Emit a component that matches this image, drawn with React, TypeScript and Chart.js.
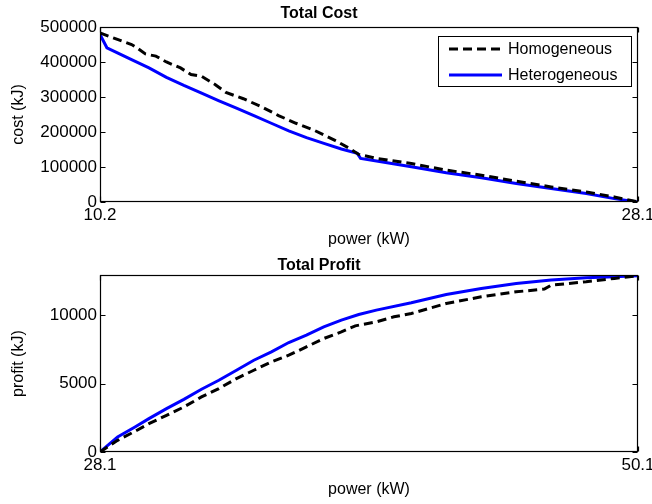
import React, { useEffect, useRef } from "react";
import { Chart, registerables } from "chart.js";

Chart.register(...registerables);

// ---------- data ----------
const seriesNames = ["Homogeneous", "Heterogeneous"];

const costHomoX = [10.2, 10.78, 11.25, 11.42, 11.71, 12.06, 12.41, 12.88, 13.23, 13.58, 14.04, 14.39, 14.97, 15.55, 16.14, 16.72, 17.3, 18.0, 18.46, 18.81, 19.4, 20.56, 21.72, 22.89, 24.05, 25.21, 26.38, 27.31, 28.1];
const costHomoY = [483000, 464500, 450000, 441000, 423000, 416700, 400000, 383000, 364000, 359000, 335000, 313000, 295000, 273000, 247000, 225000, 206000, 177000, 155000, 136000, 124500, 110000, 91000, 76600, 59400, 43100, 28700, 14400, 0];

const costHeteroX = [10.2, 10.43, 10.78, 11.25, 11.83, 12.41, 12.99, 13.58, 14.16, 14.74, 15.32, 15.9, 16.48, 17.07, 17.65, 18.23, 18.76, 18.87, 19.4, 20.56, 21.72, 22.89, 24.05, 25.21, 26.38, 27.31, 28.1];
const costHeteroY = [479000, 440600, 426000, 407000, 383000, 356000, 333000, 311000, 289000, 268000, 247000, 225000, 203000, 184000, 167600, 151300, 139000, 124500, 116900, 100600, 83300, 69000, 52700, 38300, 24000, 9600, 0];

const profitHomoX = [28.1, 28.82, 29.53, 30.1, 30.82, 31.53, 32.25, 32.96, 33.68, 34.39, 35.11, 35.82, 36.54, 37.25, 37.97, 38.54, 39.4, 40.12, 40.83, 41.54, 42.26, 43.69, 45.12, 46.27, 46.55, 47.98, 49.13, 50.1];
const profitHomoY = [0, 850, 1510, 2070, 2680, 3290, 4024, 4634, 5366, 5975, 6585, 7073, 7683, 8293, 8780, 9220, 9512, 9878, 10122, 10488, 10854, 11341, 11707, 11902, 12195, 12439, 12683, 12878];

const profitHeteroX = [28.1, 28.82, 29.53, 30.1, 30.82, 31.53, 32.25, 32.96, 33.68, 34.39, 35.11, 35.82, 36.54, 37.25, 37.97, 38.68, 39.4, 40.83, 42.26, 43.69, 45.12, 46.55, 47.98, 49.13, 50.1];
const profitHeteroY = [0, 1100, 1830, 2440, 3170, 3850, 4585, 5240, 5975, 6707, 7317, 8000, 8537, 9146, 9634, 10049, 10366, 10903, 11512, 11951, 12317, 12561, 12732, 12805, 12878];

const costXRange = [10.2, 28.1];
const costYRange = [0, 500000];
const costYTicks = [0, 100000, 200000, 300000, 400000, 500000];

const profitXRange = [28.1, 50.1];
const profitYRange = [0, 12920];
const profitYTicks = [0, 5000, 10000];

// ---------- style ----------
const FONT = "'Liberation Sans', Arial, Helvetica, sans-serif";
const BLACK = "#000000";
const BLUE = "#0000ff";

const toPoints = (xs: number[], ys: number[]) => xs.map((x, i) => ({ x, y: ys[i] }));

const framePlugin = {
  id: "frameTicks",
  afterDatasetsDraw(chart: any) {
    const { ctx, chartArea } = chart;
    const { left, right, top, bottom } = chartArea;
    const L = Math.round(left) + 0.5;
    const R = Math.round(right) - 0.5;
    const T = Math.round(top) + 0.5;
    const B = Math.round(bottom) - 0.5;
    ctx.save();
    ctx.strokeStyle = BLACK;
    ctx.lineWidth = 1.2;
    ctx.strokeRect(L, T, R - L, B - T);
    const tl = 5;
    ctx.beginPath();
    const ys = chart.scales.y;
    ys.ticks.forEach((t: any) => {
      const p = Math.round(ys.getPixelForValue(t.value)) + 0.5;
      ctx.moveTo(L, p);
      ctx.lineTo(L + tl, p);
      ctx.moveTo(R, p);
      ctx.lineTo(R - tl, p);
    });
    const xs = chart.scales.x;
    xs.ticks.forEach((t: any) => {
      const p = Math.round(xs.getPixelForValue(t.value)) + 0.5;
      ctx.moveTo(p, B);
      ctx.lineTo(p, B - tl);
      ctx.moveTo(p, T);
      ctx.lineTo(p, T + tl);
    });
    ctx.stroke();
    ctx.restore();
  },
};

const boxLegendPlugin = {
  id: "boxLegend",
  afterDraw(chart: any) {
    const { ctx, chartArea } = chart;
    const w = 193;
    const h = 50;
    const bx = Math.round(chartArea.right) - 7 - w;
    const by = Math.round(chartArea.top) + 9;
    ctx.save();
    ctx.fillStyle = "#ffffff";
    ctx.fillRect(bx, by, w, h);
    ctx.strokeStyle = BLACK;
    ctx.lineWidth = 1;
    ctx.strokeRect(bx + 0.5, by + 0.5, w, h);
    chart.data.datasets.forEach((ds: any, i: number) => {
      const yy = by + 13 + i * 26;
      ctx.beginPath();
      ctx.strokeStyle = ds.borderColor;
      ctx.lineWidth = ds.borderWidth;
      ctx.setLineDash(ds.borderDash || []);
      ctx.moveTo(bx + 11, yy);
      ctx.lineTo(bx + 64, yy);
      ctx.stroke();
      ctx.setLineDash([]);
      ctx.fillStyle = BLACK;
      ctx.font = `16px ${FONT}`;
      ctx.textAlign = "left";
      ctx.textBaseline = "middle";
      ctx.fillText(ds.label, bx + 70, yy + 1);
    });
    ctx.restore();
  },
};

type PanelDef = {
  title: string;
  yTitle: string;
  homoX: number[];
  homoY: number[];
  heteroX: number[];
  heteroY: number[];
  xRange: number[];
  yRange: number[];
  yTicks: number[];
  titlePad: { top: number; bottom: number };
  xAxisHeight: number;
  xTitlePadBottom: number;
  legend: boolean;
};

function buildConfig(p: PanelDef): any {
  return {
    type: "line",
    data: {
      datasets: [
        {
          label: seriesNames[0],
          data: toPoints(p.homoX, p.homoY),
          borderColor: BLACK,
          borderWidth: 3,
          borderDash: [9, 5],
          pointRadius: 0,
          tension: 0,
          fill: false,
        },
        {
          label: seriesNames[1],
          data: toPoints(p.heteroX, p.heteroY),
          borderColor: BLUE,
          borderWidth: 3,
          pointRadius: 0,
          tension: 0,
          fill: false,
        },
      ],
    },
    options: {
      animation: false,
      responsive: false,
      devicePixelRatio: 1,
      layout: { padding: { left: 0, right: 14, top: 0, bottom: 0 } },
      plugins: {
        legend: { display: false },
        tooltip: { enabled: false },
        title: {
          display: true,
          text: p.title,
          color: BLACK,
          font: { family: FONT, size: 16, weight: "bold", lineHeight: 1.2 },
          padding: p.titlePad,
        },
      },
      scales: {
        x: {
          type: "linear",
          min: p.xRange[0],
          max: p.xRange[1],
          grid: { display: false, drawTicks: false },
          border: { display: false },
          afterBuildTicks: (scale: any) => {
            scale.ticks = [{ value: p.xRange[0] }, { value: p.xRange[1] }];
          },
          afterFit: (scale: any) => {
            scale.height = p.xAxisHeight;
            scale.paddingLeft = 0;
            scale.paddingRight = 0;
          },
          ticks: {
            color: BLACK,
            padding: 3,
            maxRotation: 0,
            autoSkip: false,
            font: { family: FONT, size: 17 },
            callback: (v: any) => Number(v).toFixed(1),
          },
          title: {
            display: true,
            text: "power (kW)",
            color: BLACK,
            font: { family: FONT, size: 16, lineHeight: 1.2 },
            padding: { top: 0, bottom: p.xTitlePadBottom },
          },
        },
        y: {
          type: "linear",
          min: p.yRange[0],
          max: p.yRange[1],
          grid: { display: false, drawTicks: false },
          border: { display: false },
          afterBuildTicks: (scale: any) => {
            scale.ticks = p.yTicks.map((v) => ({ value: v }));
          },
          afterFit: (scale: any) => {
            scale.width = 100;
            scale.paddingTop = 0;
            scale.paddingBottom = 0;
          },
          ticks: {
            color: BLACK,
            padding: 3,
            autoSkip: false,
            font: { family: FONT, size: 17 },
            callback: (v: any) => String(v),
          },
          title: {
            display: true,
            text: p.yTitle,
            color: BLACK,
            font: { family: FONT, size: 16, lineHeight: 1.2 },
            padding: { top: 9.4, bottom: 0 },
          },
        },
      },
    },
    plugins: p.legend ? [framePlugin, boxLegendPlugin] : [framePlugin],
  };
}

const costPanel: PanelDef = {
  title: "Total Cost",
  yTitle: "cost (kJ)",
  homoX: costHomoX,
  homoY: costHomoY,
  heteroX: costHeteroX,
  heteroY: costHeteroY,
  xRange: costXRange,
  yRange: costYRange,
  yTicks: costYTicks,
  titlePad: { top: 4.4, bottom: 3.4 },
  xAxisHeight: 50,
  xTitlePadBottom: 2.4,
  legend: true,
};

const profitPanel: PanelDef = {
  title: "Total Profit",
  yTitle: "profit (kJ)",
  homoX: profitHomoX,
  homoY: profitHomoY,
  heteroX: profitHeteroX,
  heteroY: profitHeteroY,
  xRange: profitXRange,
  yRange: profitYRange,
  yTicks: profitYTicks,
  titlePad: { top: 4, bottom: 0 },
  xAxisHeight: 52,
  xTitlePadBottom: 4.4,
  legend: false,
};

function Panel({ def, top }: { def: PanelDef; top: number }) {
  const ref = useRef<HTMLCanvasElement | null>(null);
  useEffect(() => {
    if (!ref.current) return;
    const chart = new Chart(ref.current, buildConfig(def));
    return () => chart.destroy();
  }, [def]);
  return (
    <canvas
      ref={ref}
      width={652}
      height={252}
      style={{ position: "absolute", left: 0, top, width: 652, height: 252, display: "block" }}
    />
  );
}

export default function App() {
  return (
    <div style={{ position: "fixed", left: 0, top: 0, width: 652, height: 504, background: "#ffffff" }}>
      <Panel def={costPanel} top={0} />
      <Panel def={profitPanel} top={252} />
    </div>
  );
}
